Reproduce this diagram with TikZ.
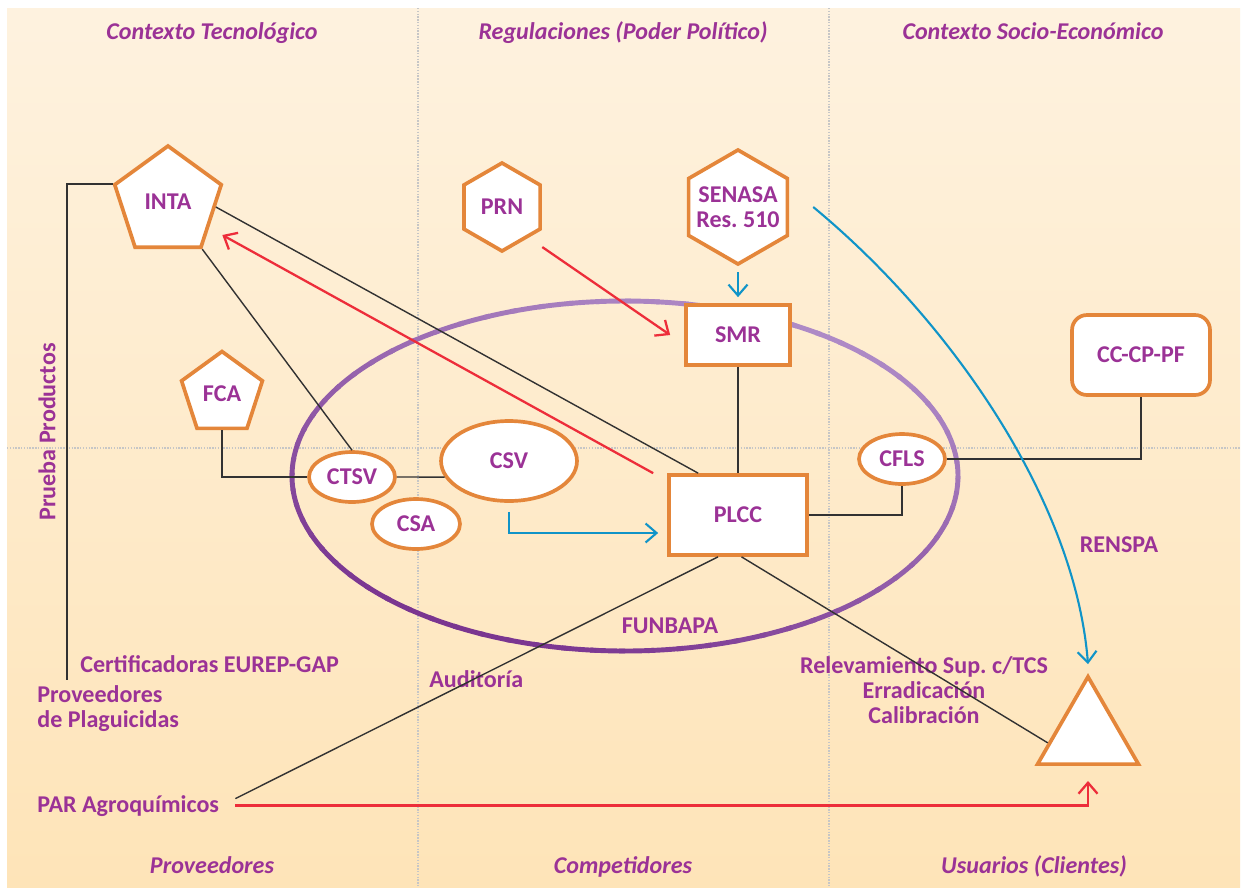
\documentclass[tikz,border=0pt]{standalone}
\usepackage{fontspec}
\setmainfont{Carlito}
\usetikzlibrary{shapes.geometric,arrows.meta}
\frenchspacing

\definecolor{txtpurple}{RGB}{155,50,150}
\definecolor{nodeorange}{RGB}{228,134,58}
\definecolor{linegray}{RGB}{50,50,50}
\definecolor{arrred}{RGB}{237,45,58}
\definecolor{arrblue}{RGB}{16,148,200}
\definecolor{bgtop}{RGB}{254,242,223}
\definecolor{bgbottom}{RGB}{254,228,184}
\definecolor{elldark}{RGB}{122,53,144}
\definecolor{elllight}{RGB}{174,138,198}

\tikzset{
  lbl/.style={text=txtpurple, inner sep=0pt, font=\fontsize{13.7}{14.2}\selectfont\bfseries},
  heading/.style={lbl, font=\fontsize{13.7}{14.2}\selectfont\bfseries\itshape, anchor=base},
  actor/.style={lbl, draw=nodeorange, line width=2.1pt, fill=white},
  pent/.style={actor, regular polygon, regular polygon sides=5},
  hexa/.style={actor, regular polygon, regular polygon sides=6, shape border rotate=30},
  ell/.style={actor, ellipse},
  box/.style={actor, rectangle},
  link/.style={draw=linegray, line width=0.8pt},
  redarr/.style={draw=arrred, line width=1.3pt, -{Straight Barb[length=2.2mm,width=3.8mm]}},
  bluearr/.style={draw=arrblue, line width=1.2pt, -{Straight Barb[length=2.2mm,width=3.8mm]}},
  quadline/.style={draw=gray!45, line width=0.6pt, dash pattern=on 0.8pt off 0.8pt},
}

\begin{document}
\begin{tikzpicture}[x=0.02cm, y=-0.02cm]
\fill[white] (0,0) rectangle (1244,887);
\useasboundingbox (0,0) rectangle (1244,887);
\shade[top color=bgtop, bottom color=bgbottom] (7,8) rectangle (1240,887);
\draw[quadline] (418,8) -- (418,887);
\draw[quadline] (829,8) -- (829,887);
\draw[quadline] (7,448) -- (1240,448);

% FUNBAPA ring
\foreach \a in {0,5,...,355}{
  \pgfmathsetmacro\shadeval{50-50*cos(\a-120)}
  \draw[draw=elllight!\shadeval!elldark, line width=2.8pt] (625,476) ++(\a:333 and 175)
    arc[start angle=\a, delta angle=6, x radius=333, y radius=175];
}

% actors
\node[pent, minimum size=2.24cm] (INTA) at (168,202) {INTA};
\node[pent, minimum size=1.7cm] (FCA) at (222,394) {FCA};
\node[hexa, minimum size=1.76cm] (PRN) at (502,207) {PRN};
\node[hexa, minimum size=2.28cm] (SENASA) at (738,207) {};
\node[lbl, align=center] (senasatxt) at (SENASA) {SENASA\\Res. 510};
\node[box, minimum width=2.08cm, minimum height=1.2cm] (SMR) at (738,335) {SMR};
\node[box, minimum width=2.76cm, minimum height=1.6cm] (PLCC) at (738,515) {PLCC};
\node[box, rounded corners=0.3cm, minimum width=2.76cm, minimum height=1.6cm] (CCCPPF) at (1141,355) {CC-CP-PF};
\node[ell, minimum width=1.72cm, minimum height=1cm] (CTSV) at (352,477) {CTSV};
\node[ell, minimum width=2.72cm, minimum height=1.6cm] (CSV) at (509,461) {CSV};
\node[ell, minimum width=1.76cm, minimum height=1cm] (CSA) at (416,524) {CSA};
\node[ell, minimum width=1.72cm, minimum height=1cm] (CFLS) at (902,459) {CFLS};
\node[actor, regular polygon, regular polygon sides=3, minimum size=2.33cm] (USR) at (1088,735) {};

% headings
\node[heading] (techctx) at (212,39) {Contexto Tecnológico};
\node[heading] (regctx) at (623,39) {Regulaciones (Poder Político)};
\node[heading] (socctx) at (1033,39) {Contexto Socio-Económico};
\node[heading] (prov) at (212,873) {Proveedores};
\node[heading] (comp) at (623,873) {Competidores};
\node[heading] (users) at (1034,873) {Usuarios (Clientes)};

% labels
\node[lbl, rotate=90] (prueba) at (47,432) {Prueba Productos};
\node[lbl, anchor=base west] (cert) at (80,672) {Certificadoras EUREP-GAP};
\node[lbl, anchor=base west, align=left] (plag) at (37,727) {Proveedores\\de Plaguicidas};
\node[lbl, anchor=base west] (PAR) at (37,812) {PAR Agroquímicos};
\node[lbl, anchor=base west] (audit) at (429,687) {Auditoría};
\node[lbl, anchor=base] (funbapa) at (670,633) {FUNBAPA};
\node[lbl, anchor=base, align=center] (tasks) at (924,723) {Relevamiento Sup. c/TCS\\Erradicación\\Calibración};
\node[lbl, anchor=base] (renspa) at (1119,552) {RENSPA};
\coordinate (plagtop) at (67,680);

% links
\draw[link] (INTA.corner 2) -| (plagtop);
\draw[link] (INTA.-6) -- ([xshift=0.62cm]PLCC.north west);
\draw[link] (INTA.corner 4) -- (CTSV.north);
\draw[link] (FCA.south) |- (CTSV.west);
\draw[link] (CTSV.east) -- (CSV.194);
\draw[link] (SMR.south) -- (PLCC.north);
\draw[link] (PLCC.east) -| (CFLS.south);
\draw[link] (CFLS.east) -| (CCCPPF.south);
\draw[link] ([xshift=-0.4cm]PLCC.south) -- ([xshift=0.32cm,yshift=0.14cm]PAR.east);
\draw[link] ([xshift=0.07cm]PLCC.south) -- (USR.191);

% arrows
\draw[redarr, shorten <=0.33cm] (PRN.-49) -- ([xshift=-0.28cm]SMR.west);
\draw[redarr, shorten >=0.3cm] ([xshift=-0.28cm]PLCC.north west) -- (INTA.-32);
\draw[redarr] ([xshift=0.32cm]PAR.east) -| ([yshift=-0.3cm]USR.side 2);
\draw[bluearr, shorten <=0.12cm, shorten >=0.12cm] (SENASA.south) -- (SMR.north);
\draw[bluearr] ([yshift=-0.18cm]CSV.south) |- ([xshift=-0.18cm,yshift=-0.36cm]PLCC.west);
\draw[bluearr] ([xshift=0.48cm]SENASA.east) .. controls (950,320) and (1075,500) .. ([yshift=0.18cm]USR.corner 1);
\end{tikzpicture}
\end{document}
